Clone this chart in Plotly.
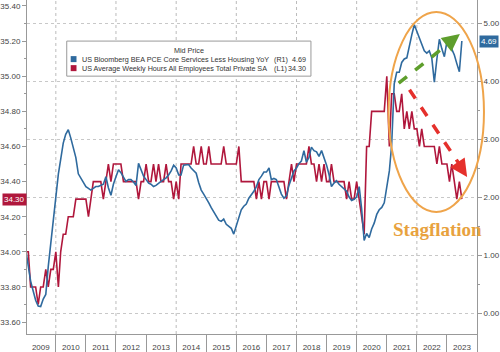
import pandas as pd
import plotly.graph_objects as go

# ---------------- data (monthly, Jan 2009 .. Jul 2023) ----------------
start_month = "2009-01-01"

hours_2009 = [34.0, 34.0, 33.8, 33.8, 33.8, 33.7, 33.8, 33.8, 33.9, 33.8, 33.9, 33.9]
hours_2010 = [34.0, 33.8, 34.0, 34.1, 34.1, 34.2, 34.2, 34.2, 34.3, 34.3, 34.3, 34.3]
hours_2011 = [34.3, 34.2, 34.3, 34.4, 34.4, 34.4, 34.4, 34.3, 34.4, 34.5, 34.4, 34.5]
hours_2012 = [34.5, 34.5, 34.5, 34.4, 34.4, 34.4, 34.4, 34.4, 34.4, 34.3, 34.4, 34.4]
hours_2013 = [34.5, 34.4, 34.4, 34.5, 34.4, 34.5, 34.4, 34.4, 34.5, 34.4, 34.4, 34.3]
hours_2014 = [34.4, 34.3, 34.5, 34.5, 34.5, 34.5, 34.5, 34.6, 34.5, 34.5, 34.6, 34.5]
hours_2015 = [34.5, 34.6, 34.5, 34.5, 34.5, 34.5, 34.5, 34.6, 34.5, 34.5, 34.5, 34.5]
hours_2016 = [34.5, 34.6, 34.4, 34.4, 34.4, 34.4, 34.4, 34.4, 34.3, 34.4, 34.3, 34.4]
hours_2017 = [34.4, 34.3, 34.4, 34.4, 34.4, 34.4, 34.4, 34.4, 34.3, 34.4, 34.5, 34.4]
hours_2018 = [34.5, 34.5, 34.5, 34.5, 34.5, 34.6, 34.5, 34.5, 34.4, 34.5, 34.4, 34.5]
hours_2019 = [34.4, 34.4, 34.5, 34.4, 34.4, 34.4, 34.4, 34.4, 34.3, 34.4, 34.3, 34.3]
hours_2020 = [34.4, 34.3, 34.2, 34.1, 34.6, 34.6, 34.8, 34.8, 34.8, 34.8, 34.8, 34.8]
hours_2021 = [35.0, 34.6, 34.9, 34.9, 34.8, 34.8, 34.9, 34.7, 34.8, 34.7, 34.8, 34.7]
hours_2022 = [34.7, 34.6, 34.7, 34.6, 34.6, 34.6, 34.6, 34.6, 34.5, 34.6, 34.5, 34.5]
hours_2023 = [34.5, 34.4, 34.5, 34.4, 34.3, 34.4, 34.3]

pce_2009 = [1.09, 0.80, 0.55, 0.38, 0.22, 0.12, 0.11, 0.24, 0.32, 0.80, 1.20, 1.55]
pce_2010 = [2.05, 2.40, 2.65, 2.93, 3.08, 3.16, 3.02, 2.87, 2.68, 2.40, 2.32, 2.25]
pce_2011 = [2.18, 2.15, 2.12, 2.15, 2.18, 2.18, 2.20, 2.22, 2.35, 2.16, 2.03, 2.22]
pce_2012 = [2.35, 2.47, 2.42, 2.35, 2.27, 2.30, 2.30, 2.26, 2.20, 2.58, 2.45, 2.36]
pce_2013 = [2.30, 2.24, 2.22, 2.18, 2.20, 2.24, 2.27, 2.30, 2.33, 2.38, 2.45, 2.55]
pce_2014 = [2.50, 2.38, 2.38, 2.55, 2.55, 2.56, 2.50, 2.45, 2.41, 2.25, 2.12, 2.05]
pce_2015 = [1.98, 1.90, 1.82, 1.74, 1.66, 1.60, 1.58, 1.62, 1.53, 1.50, 1.46, 1.36]
pce_2016 = [1.50, 1.68, 1.78, 1.84, 1.88, 1.98, 2.03, 2.10, 2.18, 2.30, 2.36, 2.43]
pce_2017 = [2.43, 2.50, 2.30, 2.32, 2.30, 2.15, 2.05, 1.98, 2.02, 2.20, 2.35, 2.45]
pce_2018 = [2.50, 2.58, 2.62, 2.80, 2.60, 2.68, 2.86, 2.80, 2.78, 2.70, 2.80, 2.68]
pce_2019 = [2.55, 2.38, 2.18, 2.24, 2.28, 2.22, 2.18, 2.14, 2.10, 2.00, 1.94, 1.96]
pce_2020 = [2.00, 2.18, 1.80, 1.25, 1.37, 1.30, 1.45, 1.55, 1.70, 1.78, 1.82, 1.90]
pce_2021 = [2.18, 2.45, 2.90, 3.95, 4.15, 4.15, 4.32, 4.38, 4.40, 4.62, 4.80, 4.97]
pce_2022 = [4.85, 4.72, 4.62, 4.52, 4.48, 4.52, 4.40, 3.98, 4.38, 4.72, 4.55, 4.42]
pce_2023 = [4.68, 4.70, 4.55, 4.45, 4.30, 4.16, 4.69]

left_ticks = [33.6, 33.8, 34.0, 34.2, 34.4, 34.6, 34.8, 35.0, 35.2, 35.4]
right_ticks = [0, 1, 2, 3, 4, 5]
grid_years = ["2010-01-01", "2012-01-01", "2014-01-01", "2016-01-01",
              "2018-01-01", "2020-01-01", "2022-01-01"]

legend_title = "Mid Price"
name_pce = "US Bloomberg BEA PCE Core Services Less Housing YoY"
name_hours = "US Average Weekly Hours All Employees Total Private SA"
tag_pce = "(R1)"
tag_hours = "(L1)"
last_pce_label = "4.69"
last_hours_label = "34.30"

hours = (hours_2009 + hours_2010 + hours_2011 + hours_2012 + hours_2013 + hours_2014 +
         hours_2015 + hours_2016 + hours_2017 + hours_2018 + hours_2019 + hours_2020 +
         hours_2021 + hours_2022 + hours_2023)
pce = (pce_2009 + pce_2010 + pce_2011 + pce_2012 + pce_2013 + pce_2014 + pce_2015 +
       pce_2016 + pce_2017 + pce_2018 + pce_2019 + pce_2020 + pce_2021 + pce_2022 + pce_2023)
dates = pd.date_range(start_month, periods=len(hours), freq="MS")

RED = "#B0173C"
BLUE = "#2F6A9E"
AX = "#999999"
FONT = "Liberation Sans, Arial, sans-serif"

fig = go.Figure()
fig.add_trace(go.Scatter(x=dates, y=hours, mode="lines", line=dict(color=RED, width=1.6),
                         yaxis="y", name=name_hours, showlegend=False))
fig.add_trace(go.Scatter(x=dates, y=pce, mode="lines", line=dict(color=BLUE, width=1.6),
                         yaxis="y2", name=name_pce, showlegend=False))

shapes = []
for g in grid_years:
    shapes.append(dict(type="line", xref="x", yref="paper", x0=g, x1=g, y0=0, y1=1,
                       line=dict(color="#BBBBBB", width=1, dash="dot"), layer="below"))
# orange ellipse
shapes.append(dict(type="circle", xref="paper", yref="paper", x0=0.8035, x1=1.0155,
                   y0=0.365, y1=0.964, line=dict(color="#EFA44A", width=2)))
# green dashed arrow shaft
shapes.append(dict(type="line", xref="paper", yref="paper", x0=0.826, y0=0.751,
                   x1=0.950, y1=0.884, line=dict(color="#5E9E2C", width=3.5, dash="dash")))
# red dashed arrow shaft
shapes.append(dict(type="line", xref="paper", yref="paper", x0=0.850, y0=0.731,
                   x1=0.970, y1=0.490, line=dict(color="#E5302C", width=3.5, dash="dash")))
# legend box + swatches (Bloomberg-style compact legend)
shapes.append(dict(type="rect", xref="paper", yref="paper", x0=0.0883, x1=0.631,
                   y0=0.772, y1=0.877, fillcolor="white", line=dict(color="#9A9A9A", width=1)))
shapes.append(dict(type="rect", xref="paper", yref="paper", x0=0.0971, x1=0.110,
                   y0=0.814, y1=0.832, fillcolor=BLUE, line=dict(width=0)))
shapes.append(dict(type="rect", xref="paper", yref="paper", x0=0.0971, x1=0.110,
                   y0=0.787, y1=0.805, fillcolor=RED, line=dict(width=0)))

LEG = dict(family=FONT, size=7.2, color="#333333")
annotations = [
    dict(x=0.962, y=0.898, xref="paper", yref="paper", ax=-9, ay=7, text="",
         showarrow=True, arrowhead=2, arrowsize=1.0, arrowwidth=3.5, arrowcolor="#5E9E2C"),
    dict(x=0.978, y=0.470, xref="paper", yref="paper", ax=-6, ay=-9, text="",
         showarrow=True, arrowhead=2, arrowsize=1.0, arrowwidth=3.5, arrowcolor="#E5302C"),
    dict(x=0.912, y=0.314, xref="paper", yref="paper", xanchor="center", yanchor="middle",
         text="<b>Stagflation</b>", showarrow=False,
         font=dict(family="Liberation Serif, Times New Roman, serif", size=19, color="#E8A23E")),
    dict(x=0, y=hours[-1], xref="paper", yref="y", xanchor="right", text=last_hours_label,
         showarrow=False, bgcolor=RED, borderpad=1, font=dict(family=FONT, size=8, color="white")),
    dict(x=1, y=pce[-1], xref="paper", yref="y2", xanchor="left", xshift=2,
         text=last_pce_label, showarrow=False, bgcolor=BLUE, borderpad=1,
         font=dict(family=FONT, size=8, color="white")),
    # legend texts
    dict(x=0.360, y=0.850, xref="paper", yref="paper", xanchor="center", yanchor="middle",
         text=legend_title, showarrow=False, font=LEG),
    dict(x=0.117, y=0.823, xref="paper", yref="paper", xanchor="left", yanchor="middle",
         text=name_pce, showarrow=False, font=LEG),
    dict(x=0.117, y=0.796, xref="paper", yref="paper", xanchor="left", yanchor="middle",
         text=name_hours, showarrow=False, font=LEG),
    dict(x=0.545, y=0.823, xref="paper", yref="paper", xanchor="left", yanchor="middle",
         text=tag_pce, showarrow=False, font=LEG),
    dict(x=0.545, y=0.796, xref="paper", yref="paper", xanchor="left", yanchor="middle",
         text=tag_hours, showarrow=False, font=LEG),
    dict(x=0.625, y=0.823, xref="paper", yref="paper", xanchor="right", yanchor="middle",
         text=last_pce_label, showarrow=False, font=LEG),
    dict(x=0.625, y=0.796, xref="paper", yref="paper", xanchor="right", yanchor="middle",
         text=last_hours_label, showarrow=False, font=LEG),
]

fig.update_layout(
    width=500, height=352,
    margin=dict(l=24, r=23, t=0, b=18),
    paper_bgcolor="white", plot_bgcolor="white",
    showlegend=False,
    font=dict(family=FONT, size=8, color="#444444"),
    xaxis=dict(type="date", range=["2009-01-16", "2024-01-01"], tick0="2009-01-01",
               dtick="M12", tickformat="%Y", ticklabelmode="period", ticks="outside",
               ticklen=18, tickcolor=AX, showline=True, linecolor=AX, showgrid=False,
               zeroline=False, ticklabelstandoff=-13, tickfont=dict(size=8, color="#444")),
    yaxis=dict(range=[33.532, 35.434], tickvals=left_ticks, tickformat=".2f",
               ticks="outside", ticklen=4, tickcolor=AX, showline=True, linecolor=AX,
               showgrid=False, zeroline=False, tickfont=dict(size=8, color="#444"),
               minor=dict(dtick=0.1, tick0=33.6, ticks="outside", ticklen=2, tickcolor=AX)),
    yaxis2=dict(range=[-0.362, 5.397], tickvals=right_ticks, tickformat=".2f",
                overlaying="y", side="right", ticks="outside", ticklen=4, tickcolor=AX,
                showline=True, linecolor=AX, showgrid=True, gridcolor="#C8C8C8",
                griddash="dot", zeroline=False, tickfont=dict(size=8, color="#444"),
                minor=dict(dtick=0.5, tick0=0, ticks="outside", ticklen=2, tickcolor=AX)),
    shapes=shapes,
    annotations=annotations,
)

fig.write_html("out.html")
